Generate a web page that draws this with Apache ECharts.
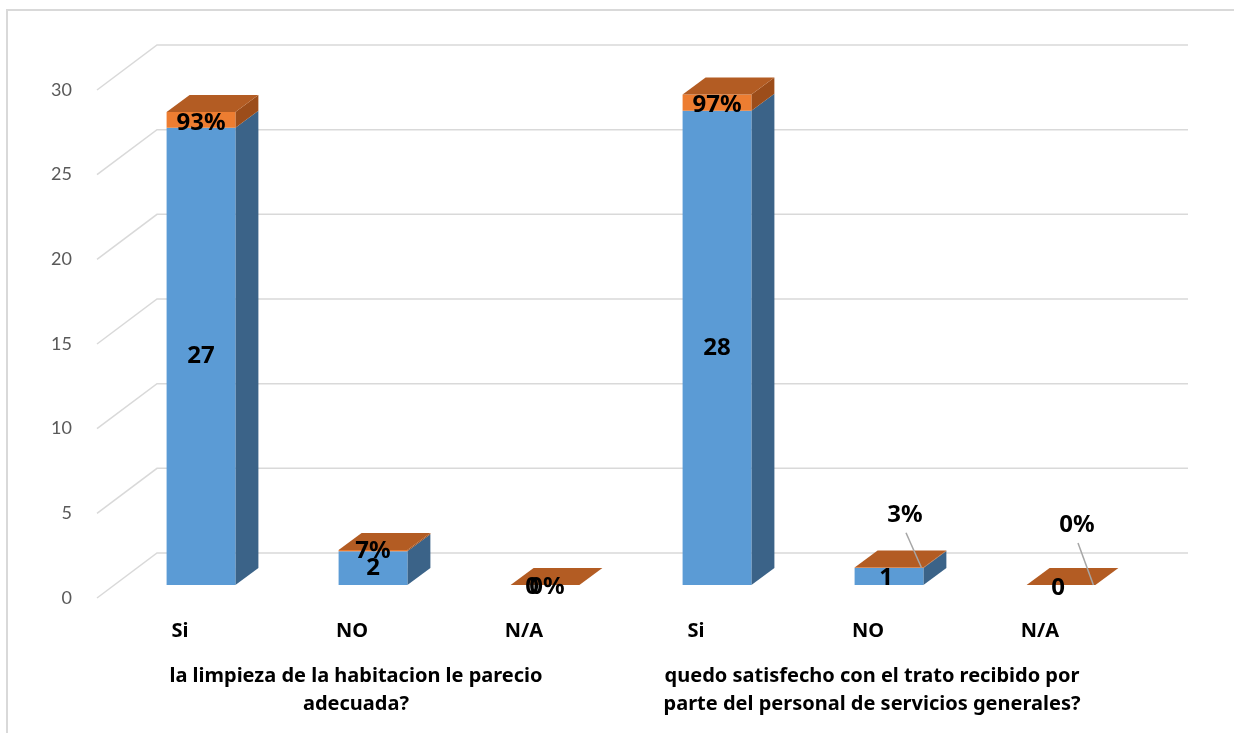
<!DOCTYPE html>
<html><head><meta charset="utf-8">
<script src="https://cdn.jsdelivr.net/npm/echarts@6/dist/echarts.min.js"></script>
<style>html,body{margin:0;padding:0;background:#fff}#c{width:1234px;height:733px}</style>
</head><body><div id="c"></div>
<script>
// ---- data ----
const categories = ['Si', 'NO', 'N/A', 'Si', 'NO', 'N/A'];
const groups = [
  'la limpieza de la habitacion le parecio\nadecuada?',
  'quedo satisfecho con el trato recibido por\nparte del personal de servicios generales?'
];
const counts = [27, 2, 0, 28, 1, 0];
const shares = [0.93, 0.07, 0, 0.97, 0.03, 0];
const yTicks = [0, 5, 10, 15, 20, 25, 30];

// ---- style / layout ----
const FONT = '"Noto Sans", "Liberation Sans", sans-serif';
const AXFONT = 'Lato, "Noto Sans", sans-serif';
const DX = 23, DY = 17;          // bar depth
const WALL_FRONT = [-18, 13], WALL_BACK = [42, -32];
const pctShift = [[0, 3], [0, 1], [2, 2], [0, 3], [16, -53], [16, -60]];
const pctLeader = [false, false, false, false, true, true];
const cntShift = [[0, 0], [0, 0], [-13, 2], [0, 0], [-3, 2], [-3, 3]];

const chart = echarts.init(document.getElementById('c'), null, {renderer: 'canvas'});

function box(api, i, base, val) {
  const b = api.coord([i, base]), t = api.coord([i, base + val]);
  const w = api.size([1, 0])[0] * 0.4;
  return {x: b[0] - w / 2, w: w, y0: b[1], y1: t[1], cx: b[0]};
}

const option = {
  backgroundColor: '#fff',
  animation: false,
  graphic: [{type: 'rect', shape: {x: 7, y: 10, width: 1400, height: 900},
    style: {fill: 'none', stroke: '#d9d9d9', lineWidth: 2}, silent: true, z: -10}],
  grid: [
    {left: 115, right: 87, top: 77, bottom: 148},
    {left: 97, right: 87, top: 90, bottom: 135}
  ],
  xAxis: [
    {type: 'category', data: categories, gridIndex: 0,
     axisLine: {show: false}, axisTick: {show: false},
     axisLabel: {interval: 0, margin: 36, fontFamily: FONT, fontWeight: 'bold', fontSize: 20, color: '#000',
                 padding: [0, 42, 0, 0]}},
    {type: 'category', data: groups, gridIndex: 0, position: 'bottom',
     axisLine: {show: false}, axisTick: {show: false},
     axisLabel: {interval: 0, hideOverlap: false, margin: 77, fontFamily: FONT, fontWeight: 'bold', fontSize: 20, color: '#000',
                 lineHeight: 28, padding: [0, 34, 0, 0]}},
    {type: 'category', data: categories, gridIndex: 1, show: false}
  ],
  yAxis: [
    {type: 'value', min: 0, max: 30, interval: 5, gridIndex: 0, show: false, splitLine: {show: false}},
    {type: 'value', min: 0, max: 30, interval: 5, gridIndex: 1,
     axisLine: {show: false}, axisTick: {show: false}, splitLine: {show: false},
     axisLabel: {margin: 25, fontFamily: AXFONT, fontSize: 18, color: '#595959'}}
  ],
  series: [
    {
      type: 'custom', xAxisIndex: 0, yAxisIndex: 0, z: 1, silent: true,
      data: yTicks.map(v => [0, v]),
      encode: {x: 0, y: 1},
      renderItem: function (params, api) {
        const cs = params.coordSys;
        const y = api.coord([0, api.value(1)])[1];
        return {type: 'polyline', shape: {points: [
          [cs.x + WALL_FRONT[0], y + WALL_FRONT[1]],
          [cs.x + WALL_BACK[0], y + WALL_BACK[1]],
          [cs.x + cs.width + WALL_BACK[0] - 1, y + WALL_BACK[1]]
        ]}, style: {fill: 'none', stroke: '#d9d9d9', lineWidth: 1.5}};
      }
    },
    {
      type: 'custom', xAxisIndex: 0, yAxisIndex: 0, z: 2, silent: true,
      data: counts.map((v, i) => [i, v]),
      encode: {x: 0, y: 1},
      renderItem: function (params, api) {
        const i = api.value(0), v = api.value(1);
        const r = box(api, i, 0, v);
        const ch = [];
        if (r.y0 - r.y1 > 0.5) {
          ch.push({type: 'polygon', shape: {points: [[r.x + r.w, r.y1], [r.x + r.w + DX, r.y1 - DY], [r.x + r.w + DX, r.y0 - DY], [r.x + r.w, r.y0]]},
            style: {fill: '#3b6388'}});
          ch.push({type: 'rect', shape: {x: r.x, y: r.y1, width: r.w, height: r.y0 - r.y1}, style: {fill: '#5b9bd5'}});
        }
        return {type: 'group', children: ch};
      }
    },
    {
      type: 'custom', xAxisIndex: 0, yAxisIndex: 0, z: 3, silent: true,
      data: shares.map((v, i) => [i, v, counts[i]]),
      encode: {x: 0, y: 1},
      renderItem: function (params, api) {
        const i = api.value(0), v = api.value(1), base = api.value(2);
        const r = box(api, i, base, v);
        const ch = [];
        ch.push({type: 'polygon', shape: {points: [[r.x + r.w, r.y1], [r.x + r.w + DX, r.y1 - DY], [r.x + r.w + DX, r.y0 - DY], [r.x + r.w, r.y0]]},
          style: {fill: '#9c4d1a'}});
        ch.push({type: 'rect', shape: {x: r.x, y: r.y1, width: r.w, height: Math.max(0, r.y0 - r.y1)}, style: {fill: '#ed7d31'}});
        ch.push({type: 'polygon', shape: {points: [[r.x, r.y1], [r.x + DX, r.y1 - DY], [r.x + r.w + DX, r.y1 - DY], [r.x + r.w, r.y1]]},
          style: {fill: '#b35c23'}});
        return {type: 'group', children: ch};
      }
    },
    {
      // data labels (counts and percentages)
      type: 'custom', xAxisIndex: 0, yAxisIndex: 0, z: 4, silent: true,
      data: counts.map((v, i) => [i, v, shares[i]]),
      encode: {x: 0, y: 1},
      renderItem: function (params, api) {
        const i = api.value(0), c = api.value(1), s = api.value(2);
        const rb = box(api, i, 0, c);
        const ro = box(api, i, c, s);
        const ch = [];
        const font = 'bold 24px ' + FONT;
        ch.push({type: 'text', x: rb.cx + cntShift[i][0], y: (rb.y0 + rb.y1) / 2 + cntShift[i][1],
          style: {text: String(c), font: font, fill: '#000', align: 'center', verticalAlign: 'middle'}});
        const lx = ro.cx + pctShift[i][0], ly = (ro.y0 + ro.y1) / 2 + pctShift[i][1];
        if (pctLeader[i]) {
          ch.push({type: 'line', shape: {x1: lx + 1, y1: ly + 18, x2: ro.x + ro.w - 2, y2: ro.y1},
            style: {stroke: '#a6a6a6', lineWidth: 1.5}});
        }
        ch.push({type: 'text', x: lx, y: ly,
          style: {text: Math.round(s * 100) + '%', font: font, fill: '#000', align: 'center', verticalAlign: 'middle'}});
        return {type: 'group', children: ch};
      }
    }
  ]
};
chart.setOption(option);
</script>
</body></html>
